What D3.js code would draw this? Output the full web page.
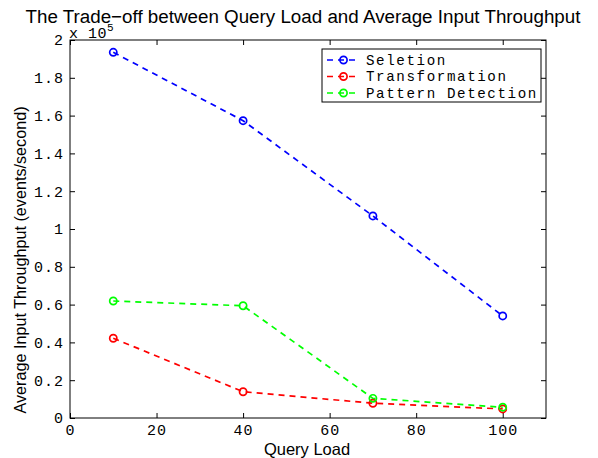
<!DOCTYPE html>
<html>
<head>
<meta charset="utf-8">
<script src="https://cdn.jsdelivr.net/npm/d3@7"></script>
<style>
  body { margin: 0; background: #fff; }
  svg { display: block; }
</style>
</head>
<body>
<svg id="chart" width="598" height="458"></svg>
<script>
// Query load levels and the measured throughput (in units of 1e5 events/second)
const queryLoad = [10, 40, 70, 100];
const selection = [1.935, 1.573, 1.069, 0.54];
const transformation = [0.422, 0.139, 0.078, 0.048];
const patternDetection = [0.619, 0.594, 0.104, 0.057];

const seriesNames = ["Seletion", "Transformation", "Pattern Detection"];
const seriesColors = ["#0000ff", "#ff0000", "#00ff00"];
const seriesValues = [selection, transformation, patternDetection];

const xTicks = [0, 20, 40, 60, 80, 100];
const yTicks = [0, 0.2, 0.4, 0.6, 0.8, 1, 1.2, 1.4, 1.6, 1.8, 2];

const margin = { left: 70, right: 52, top: 40, bottom: 40 };
const W = 598, H = 458;
const svg = d3.select("#chart");

const x = d3.scaleLinear().domain([0, 110]).range([margin.left, W - margin.right]);
const y = d3.scaleLinear().domain([0, 2]).range([H - margin.bottom, margin.top]);

const monoFont = "'Liberation Mono', 'DejaVu Sans Mono', monospace";
const sansFont = "'Liberation Sans', Arial, sans-serif";

// Box around the axes
svg.append("rect")
  .attr("x", x(0)).attr("y", y(2))
  .attr("width", x(110) - x(0)).attr("height", y(0) - y(2))
  .attr("fill", "none").attr("stroke", "#000").attr("stroke-width", 1);

const tickLen = 5;
// Bottom axis, ticks pointing inward
const xAxis = svg.append("g").attr("transform", `translate(0,${y(0)})`)
  .call(d3.axisBottom(x).tickValues(xTicks).tickSizeInner(-tickLen).tickSizeOuter(0).tickPadding(6)
    .tickFormat(d3.format("d")));
// Top axis mirror ticks
const xAxisTop = svg.append("g").attr("transform", `translate(0,${y(2)})`)
  .call(d3.axisTop(x).tickValues(xTicks).tickSizeInner(-tickLen).tickSizeOuter(0).tickFormat(""));
// Left axis
const yAxis = svg.append("g").attr("transform", `translate(${x(0)},0)`)
  .call(d3.axisLeft(y).tickValues(yTicks).tickSizeInner(-tickLen).tickSizeOuter(0).tickPadding(6)
    .tickFormat(d => d === 0 ? "0" : (Number.isInteger(d) ? String(d) : d.toFixed(1))));
// Right axis mirror ticks
const yAxisRight = svg.append("g").attr("transform", `translate(${x(110)},0)`)
  .call(d3.axisRight(y).tickValues(yTicks).tickSizeInner(-tickLen).tickSizeOuter(0).tickFormat(""));

[xAxis, xAxisTop, yAxis, yAxisRight].forEach(g => {
  g.select(".domain").remove();
  g.selectAll("line").attr("stroke", "#000");
  g.selectAll("text").attr("fill", "#000").attr("font-family", monoFont)
    .attr("font-size", 15).attr("letter-spacing", 1);
});

// Exponent annotation above the y axis
const expo = svg.append("text").attr("x", x(0) - 1).attr("y", y(2) - 2)
  .attr("font-family", monoFont).attr("font-size", 15).attr("letter-spacing", 0.5).attr("fill", "#000");
expo.append("tspan").text("x 10");
expo.append("tspan").attr("dy", -7).attr("font-size", 11).text("5");

// Series lines and circle markers
const line = d3.line().x((d, i) => x(queryLoad[i])).y(d => y(d));
seriesValues.forEach((vals, k) => {
  svg.append("path").datum(vals)
    .attr("d", line)
    .attr("fill", "none").attr("stroke", seriesColors[k])
    .attr("stroke-width", 1.7).attr("stroke-dasharray", "6,5");
  svg.append("g").selectAll("circle").data(vals).join("circle")
    .attr("cx", (d, i) => x(queryLoad[i])).attr("cy", d => y(d)).attr("r", 3.6)
    .attr("fill", "none").attr("stroke", seriesColors[k]).attr("stroke-width", 1.7);
});

// Legend
const lg = svg.append("g");
lg.append("rect").attr("x", 322).attr("y", 49).attr("width", 219).attr("height", 53)
  .attr("fill", "#fff").attr("stroke", "#000").attr("stroke-width", 1);
seriesNames.forEach((name, k) => {
  const ly = 60 + k * 16.5;
  lg.append("line").attr("x1", 327).attr("x2", 360).attr("y1", ly).attr("y2", ly)
    .attr("stroke", seriesColors[k]).attr("stroke-width", 1.7).attr("stroke-dasharray", "6,5");
  lg.append("circle").attr("cx", 343.5).attr("cy", ly).attr("r", 3.6)
    .attr("fill", "none").attr("stroke", seriesColors[k]).attr("stroke-width", 1.7);
  lg.append("text").attr("x", 366).attr("y", ly + 4.5).text(name)
    .attr("font-family", monoFont).attr("font-size", 14.2).attr("letter-spacing", 1.6)
    .attr("fill", "#000");
});

// Title and axis labels
svg.append("text").attr("x", 303).attr("y", 23).attr("text-anchor", "middle")
  .attr("font-family", sansFont).attr("font-size", 18.8).attr("fill", "#000")
  .text("The Trade\u2212off between Query Load and Average Input Throughput");
svg.append("text").attr("x", 307).attr("y", 455).attr("text-anchor", "middle")
  .attr("font-family", sansFont).attr("font-size", 16.5).attr("fill", "#000")
  .text("Query Load");
svg.append("text").attr("transform", `translate(26,260) rotate(-90)`)
  .attr("text-anchor", "middle")
  .attr("font-family", sansFont).attr("font-size", 16.2).attr("fill", "#000")
  .text("Average Input Throughput (events/second)");
</script>
</body>
</html>
